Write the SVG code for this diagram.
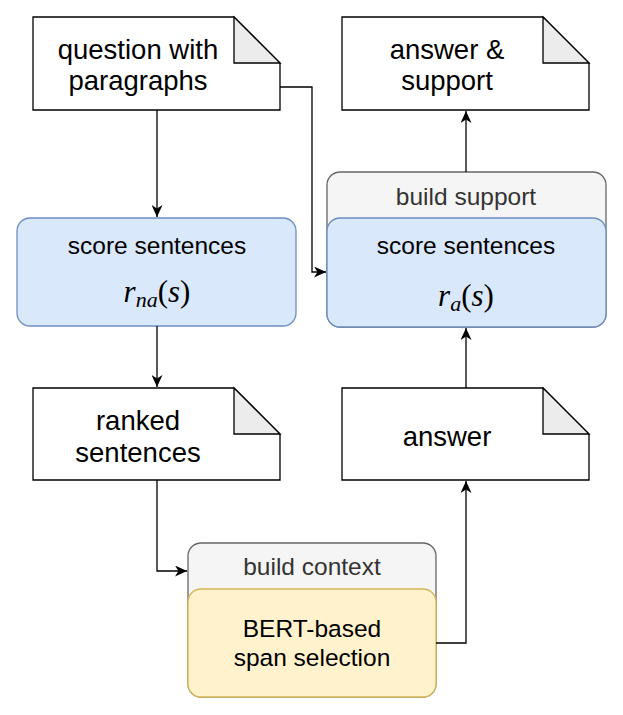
<svg xmlns="http://www.w3.org/2000/svg" width="623" height="715" viewBox="0 0 623 715">
<style>
.doc{fill:#ffffff;stroke:#000000;stroke-width:1.3}
.fold{fill:#ececec;stroke:#000000;stroke-width:1.3}
.blue{fill:#dae8fc;stroke:#6c8ebf;stroke-width:1.3}
.gray{fill:#f5f5f5;stroke:#666666;stroke-width:1.3}
.yellow{fill:#fff2cc;stroke:#d6b656;stroke-width:1.3}
.t{font-family:"Liberation Sans",Arial,Helvetica,sans-serif;text-anchor:middle;fill:#000000}
.big{font-size:27.5px}
.mid{font-size:24.5px}
.hdr{font-size:24.5px;fill:#333333}
.math{font-family:"Liberation Serif","Times New Roman",serif;text-anchor:middle;fill:#000000;font-size:31px}
.conn{fill:none;stroke:#000000;stroke-width:1.3}
</style>
<defs>
<marker id="arr" markerUnits="userSpaceOnUse" markerWidth="13" markerHeight="11" refX="12" refY="5.5" orient="auto">
<path d="M0,0 L12,5.5 L0,11 L3.5,5.5 z" fill="#000000"/>
</marker>
</defs>

<g id="question">
<path class="doc" d="M33,17 H234 L280,63 V110 H33 Z"/>
<path class="fold" d="M234,17 V63 H280 Z"/>
<text class="t big" x="138" y="59">question with</text>
<text class="t big" x="138" y="90">paragraphs</text>
</g>

<g id="answer-support">
<path class="doc" d="M342,17 H543 L589,63 V110 H342 Z"/>
<path class="fold" d="M543,17 V63 H589 Z"/>
<text class="t big" x="447" y="59">answer &amp;</text>
<text class="t big" x="447" y="90">support</text>
</g>

<g id="score-na">
<rect class="blue" x="17" y="218" width="279" height="108" rx="13" ry="13"/>
<text class="t mid" x="157" y="254">score sentences</text>
<text class="math" x="157" y="302"><tspan font-style="italic">r</tspan><tspan font-style="italic" font-size="22" dy="5">na</tspan><tspan dy="-5">(</tspan><tspan font-style="italic">s</tspan><tspan>)</tspan></text>
</g>

<g id="build-support">
<rect class="gray" x="327" y="172" width="279" height="155" rx="13" ry="13"/>
<text class="t hdr" x="466" y="205">build support</text>
<rect class="blue" x="327" y="218" width="279" height="109" rx="13" ry="13"/>
<text class="t mid" x="466" y="254">score sentences</text>
<text class="math" x="466" y="306"><tspan font-style="italic">r</tspan><tspan font-style="italic" font-size="22" dy="5">a</tspan><tspan dy="-5">(</tspan><tspan font-style="italic">s</tspan><tspan>)</tspan></text>
</g>

<g id="ranked">
<path class="doc" d="M33,388 H234 L280,434 V480 H33 Z"/>
<path class="fold" d="M234,388 V434 H280 Z"/>
<text class="t big" x="138" y="430">ranked</text>
<text class="t big" x="138" y="462">sentences</text>
</g>

<g id="answer">
<path class="doc" d="M342,388 H543 L589,434 V480 H342 Z"/>
<path class="fold" d="M543,388 V434 H589 Z"/>
<text class="t big" x="447" y="446">answer</text>
</g>

<g id="build-context">
<rect class="gray" x="188" y="543" width="248" height="154" rx="13" ry="13"/>
<text class="t hdr" x="312" y="575">build context</text>
<rect class="yellow" x="188" y="589" width="248" height="108" rx="13" ry="13"/>
<text class="t mid" x="312" y="637">BERT-based</text>
<text class="t mid" x="312" y="666">span selection</text>
</g>

<g id="connectors">
<path class="conn" d="M157,110 V217" marker-end="url(#arr)"/>
<path class="conn" d="M280,87 H312 V272 H326" marker-end="url(#arr)"/>
<path class="conn" d="M157,326 V387" marker-end="url(#arr)"/>
<path class="conn" d="M157,480 V571 H187" marker-end="url(#arr)"/>
<path class="conn" d="M436,643 H466 V481" marker-end="url(#arr)"/>
<path class="conn" d="M466,388 V328" marker-end="url(#arr)"/>
<path class="conn" d="M466,172 V111" marker-end="url(#arr)"/>
</g>
</svg>
